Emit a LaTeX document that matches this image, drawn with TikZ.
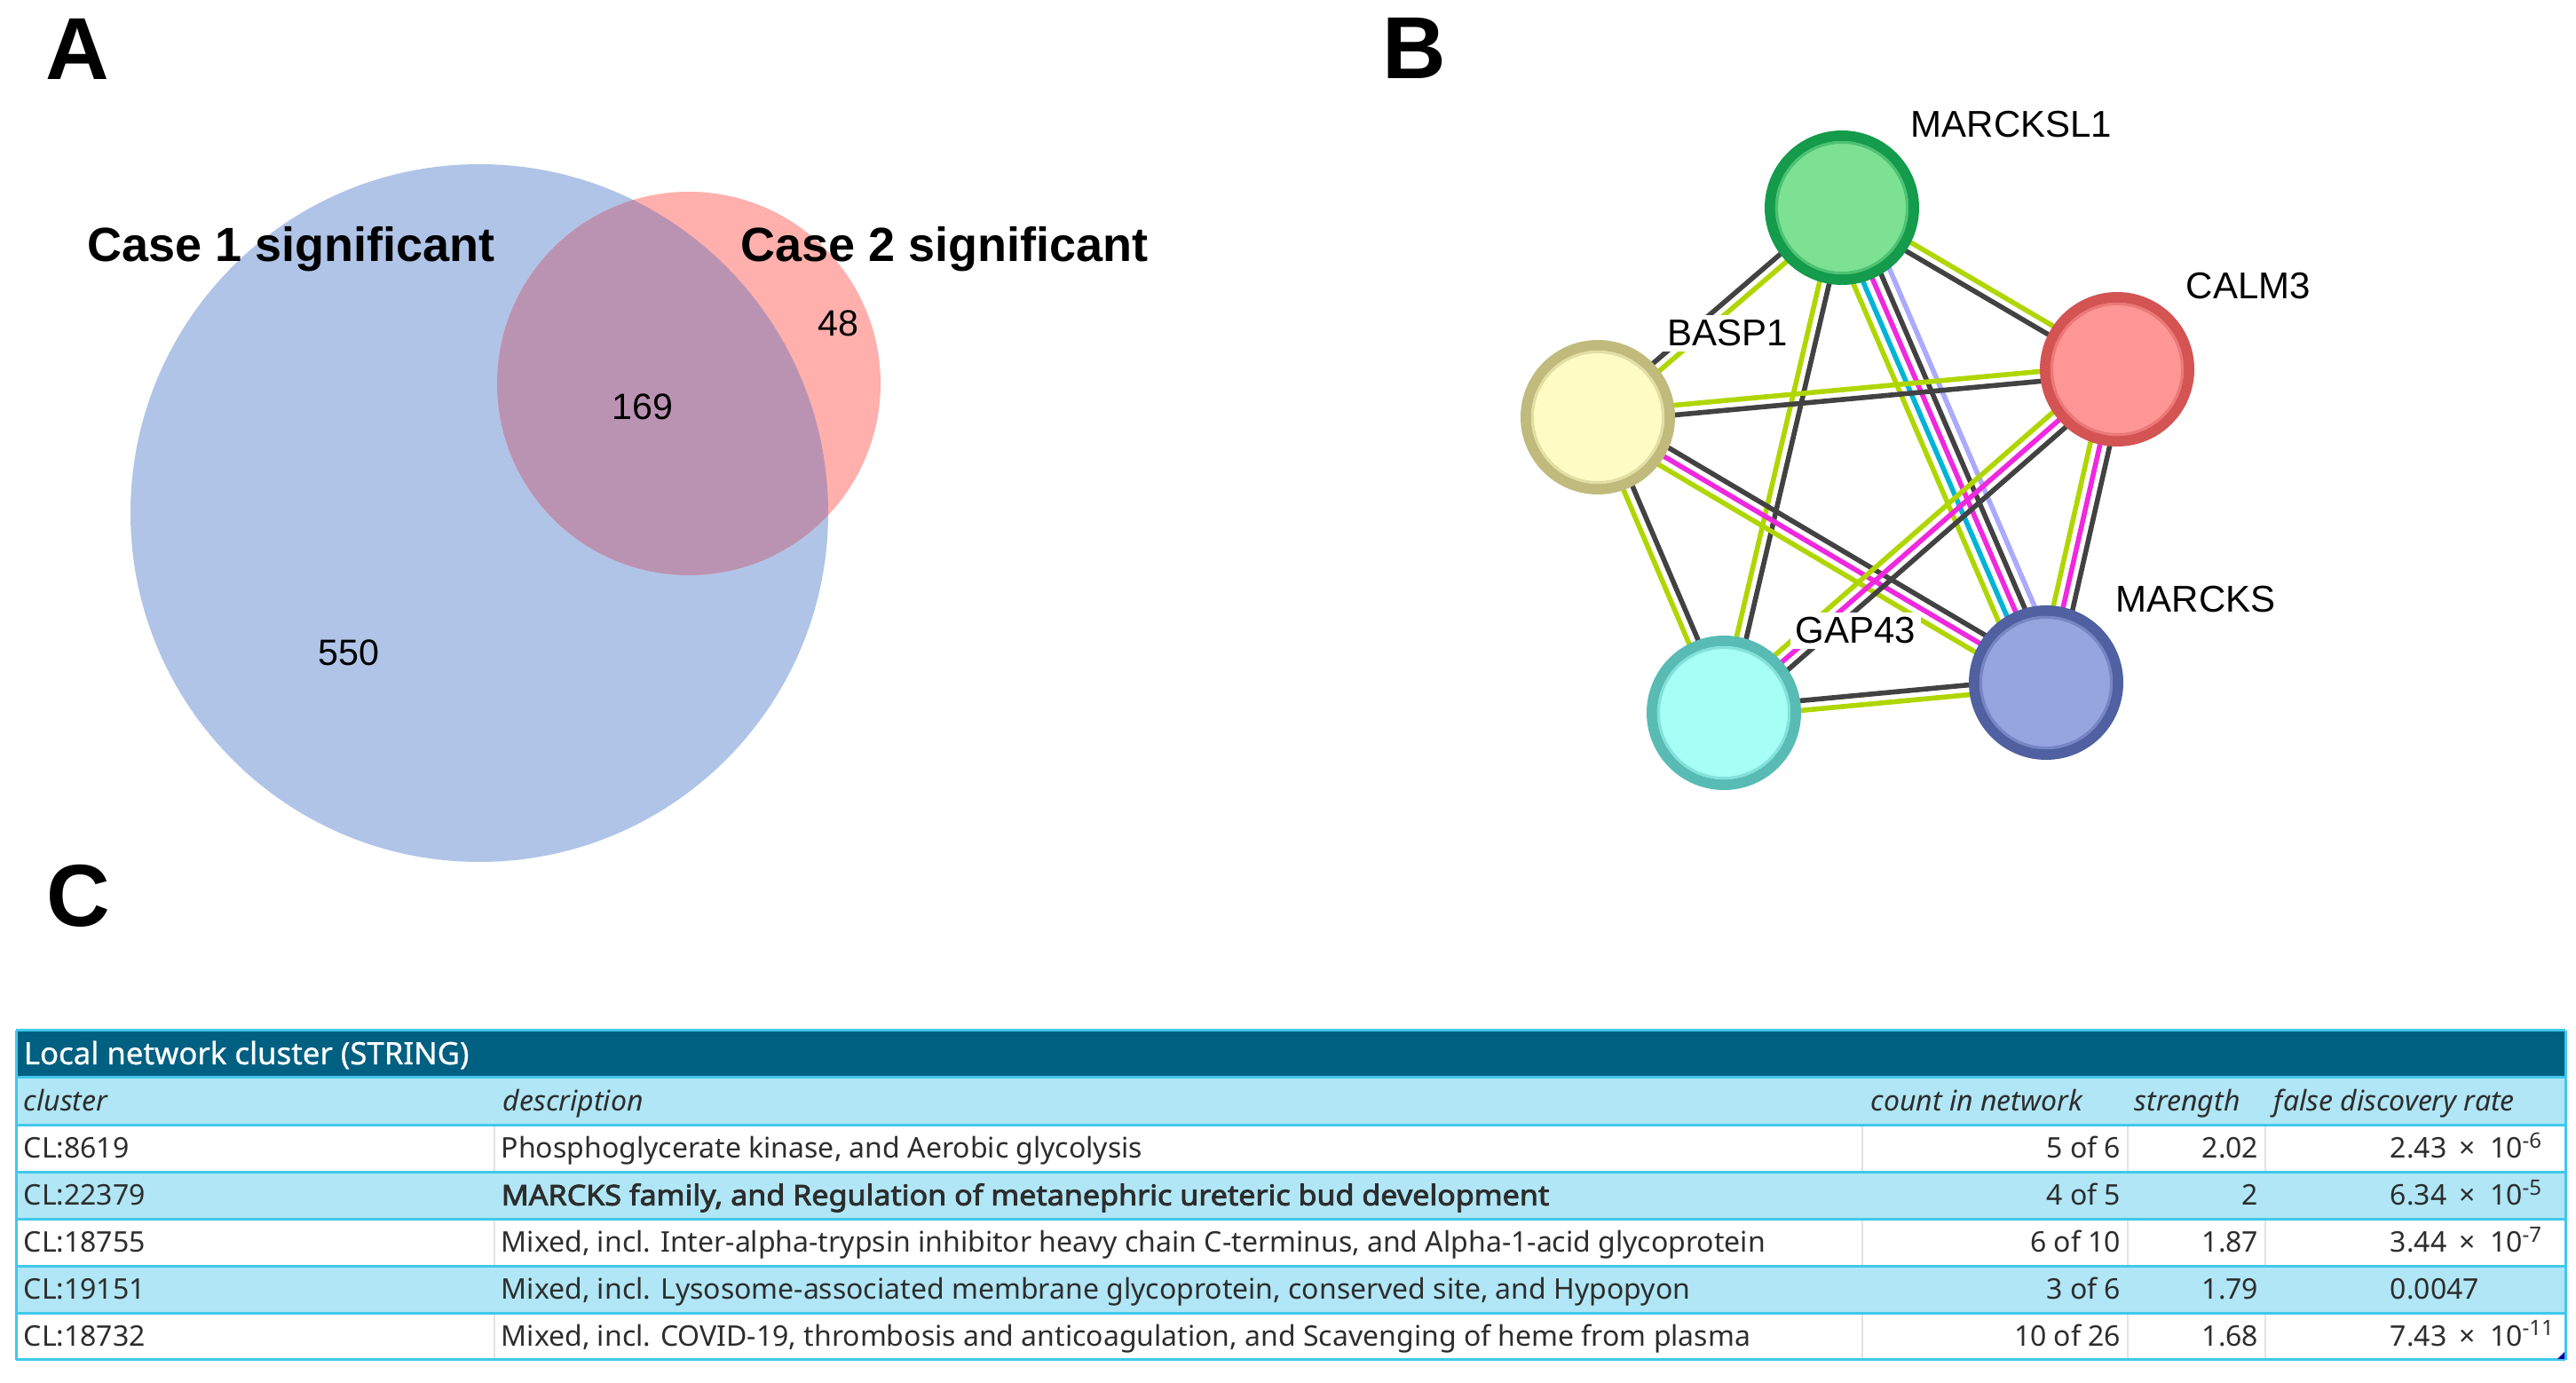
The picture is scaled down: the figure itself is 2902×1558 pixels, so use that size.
\documentclass[tikz,border=0pt]{standalone}
\usepackage{fontspec}
\setmainfont{Liberation Sans}
\newfontfamily\tabfont{Noto Sans}
\newfontfamily\tabbold[FakeBold=2.6, FakeStretch=1.065]{Noto Sans}
\newfontfamily\tabmedium[FakeBold=0.8]{Noto Sans}
\usetikzlibrary{calc}

% Venn colours
\definecolor{vennblue}{RGB}{176,196,232}
\definecolor{vennred}{RGB}{255,176,172}
\definecolor{vennmix}{RGB}{186,147,179}
% STRING evidence colours
\definecolor{tmgreen}{RGB}{176,214,0}
\definecolor{cogray}{RGB}{66,66,66}
\definecolor{exmagenta}{RGB}{240,40,222}
\definecolor{dbcyan}{RGB}{0,180,214}
\definecolor{hmlav}{RGB}{170,170,255}
% protein bubbles
\definecolor{lonefill}{RGB}{125,225,148}\definecolor{lonering}{RGB}{20,155,75}
\definecolor{calfill}{RGB}{255,150,150}\definecolor{calring}{RGB}{212,84,84}
\definecolor{basfill}{RGB}{255,252,195}\definecolor{basring}{RGB}{192,186,125}
\definecolor{gapfill}{RGB}{166,255,247}\definecolor{gapring}{RGB}{88,188,180}
\definecolor{marfill}{RGB}{150,164,224}\definecolor{marring}{RGB}{80,96,160}
% table
\definecolor{tabdark}{RGB}{0,96,130}
\definecolor{tablight}{RGB}{176,230,245}
\definecolor{tabline}{RGB}{64,200,236}
\definecolor{tabsep}{RGB}{226,226,226}
\definecolor{tabtext}{RGB}{45,45,45}

\pgfdeclarelayer{edges}
\pgfsetlayers{edges,main}

\tikzset{
  panel/.style={font=\fontsize{24.8}{25}\selectfont\bfseries, anchor=base west, inner sep=0pt},
  setlabel/.style={font=\fontsize{13.5}{14}\selectfont\bfseries, anchor=base, inner sep=0pt},
  setcount/.style={font=\fontsize{10.3}{11}\selectfont, anchor=base, inner sep=0pt},
  protein/.style={circle, minimum size=40.5pt, inner sep=0pt, line width=3pt},
  genelabel/.style={font=\fontsize{10.5}{11}\selectfont, anchor=base west, fill=white, inner sep=1.5pt},
  edge/.style={line width=1.4pt},
  cell/.style={font=\tabfont\fontsize{8}{9}\selectfont, text=tabtext, inner sep=0pt},
  headcell/.style={cell, font=\tabfont\itshape\fontsize{8}{9}\selectfont, anchor=base west},
}

% one STRING edge = a bundle of parallel coloured lines (offset/colour list)
\newcommand{\stredge}[3]{%
  \foreach \o/\c in {#3}
    \draw[edge, \c] ($(#1.center)!\o*2.75pt!90:(#2.center)$) -- ($(#2.center)!\o*2.75pt!-90:(#1.center)$);
}
% fdr written as a x 10^b
\newcommand{\sci}[2]{#1\hspace{0.45em}×\hspace{0.5em}10\textsuperscript{#2}}

\begin{document}
\begin{tikzpicture}[x=0.25pt, y=-0.25pt]
\useasboundingbox (0,0) rectangle (2902,1558);

% STEP 1: Panel letters.
\node[panel] (pA) at (51,90) {A};
\node[panel] (pB) at (1557,89) {B};
\node[panel] (pC) at (52,1044) {C};

% STEP 2: Venn diagram (panel A).
\coordinate (one) at (540,578);
\coordinate (two) at (776,432);
\fill[vennblue] (one) circle[radius=98.25pt];
\fill[vennred] (two) circle[radius=54pt];
% the overlap gets its own mixed colour
\begin{scope}
  \clip (one) circle[radius=98.25pt];
  \fill[vennmix] (two) circle[radius=54pt];
\end{scope}
\node[setlabel] (lone) at (328,295) {Case 1 significant};
\node[setlabel] (ltwo) at (1064,295) {Case 2 significant};
\node[setcount] (nonly) at (393,750) {550};
\node[setcount] (nboth) at (724,473) {169};
\node[setcount] (ntwo) at (944,379) {48};

% STEP 3: STRING network (panel B).
\foreach \nm/\pos/\fc/\rc in {l1/{2075,234}/lonefill/lonering, c3/{2385,416}/calfill/calring,
    ba/{1800,470}/basfill/basring, ga/{1942,803}/gapfill/gapring, ma/{2305,769}/marfill/marring}
{
  \node[protein, fill=\fc, draw=\rc] (\nm) at (\pos) {};
  \draw[\fc!55!\rc, line width=0.8pt] (\nm.center) circle[radius=18.4pt];
}

% the edges go below the bubbles
\begin{pgfonlayer}{edges}
\stredge{ba}{l1}{-0.5/tmgreen, 0.5/cogray}
\stredge{l1}{c3}{0.5/tmgreen, -0.5/cogray}
\stredge{l1}{ga}{-0.5/tmgreen, 0.5/cogray}
\stredge{l1}{ma}{-2/tmgreen, -1/dbcyan, 0/exmagenta, 1/cogray, 2/hmlav}
\stredge{ba}{c3}{0.5/tmgreen, -0.5/cogray}
\stredge{ba}{ga}{-0.5/tmgreen, 0.5/cogray}
\stredge{ba}{ma}{-1/tmgreen, 0/exmagenta, 1/cogray}
\stredge{c3}{ga}{-1/tmgreen, 0/exmagenta, 1/cogray}
\stredge{c3}{ma}{-1/tmgreen, 0/exmagenta, 1/cogray}
\stredge{ga}{ma}{-0.5/tmgreen, 0.5/cogray}
\end{pgfonlayer}

\node[genelabel] (tl1) at (2146,155) {MARCKSL1};
\node[genelabel] (tc3) at (2456,337) {CALM3};
\node[genelabel] (tba) at (1872,390) {BASP1};
\node[genelabel] (tma) at (2377,690) {MARCKS};
\node[genelabel] (tga) at (2016,725) {GAP43};

% STEP 4: Cluster table (panel C).
\fill[tabdark] (18,1161) rectangle (2890,1214);
\fill[tablight] (18,1214) rectangle (2890,1268);
\foreach \r in {2,4}
  \fill[tablight] (18,{1268+52.8*(\r-1)}) rectangle (2890,{1268+52.8*\r});
% light grey column rules only show in the white rows
\foreach \r in {1,3,5}
  \foreach \cx in {557,2098,2397,2552}
    \draw[tabsep, line width=0.5pt] (\cx,{1268+52.8*(\r-1)}) -- (\cx,{1268+52.8*\r});
\foreach \ly in {1161,1214,1268,1320.8,1373.6,1426.4,1479.2,1532}
  \draw[tabline, line width=0.75pt] (18,\ly) -- (2890,\ly);
\draw[tabline, line width=0.75pt] (18,1161) -- (18,1532);
\draw[tabline, line width=0.75pt] (2890,1161) -- (2890,1532);
\fill[blue!65!black] (2881,1531) -- (2889,1531) -- (2889,1523) -- cycle;

\node[cell, text=white, anchor=base west, font=\tabmedium\fontsize{8.7}{9}\selectfont] (thead) at (26,1199) {Local network cluster (STRING)};
\node[headcell] (hcl) at (26,1252) {cluster};
\node[headcell] (hde) at (566,1252) {description};
\node[headcell] (hco) at (2107,1252) {count in network};
\node[headcell] (hst) at (2404,1252) {strength};
\node[headcell] (hfd) at (2561,1252) {false discovery rate};

\foreach \clid/\desc/\cnt/\str/\fdr [count=\r] in {
  CL:8619/{Phosphoglycerate kinase, and Aerobic glycolysis}/5 of 6/2.02/{\sci{2.43}{-6}},
  CL:22379/{\tabbold MARCKS family, and Regulation of metanephric ureteric bud development}/4 of 5/2/{\sci{6.34}{-5}},
  CL:18755/{Mixed, incl. Inter-alpha-trypsin inhibitor heavy chain C-terminus, and Alpha-1-acid glycoprotein}/6 of 10/1.87/{\sci{3.44}{-7}},
  CL:19151/{Mixed, incl. Lysosome-associated membrane glycoprotein, conserved site, and Hypopyon}/3 of 6/1.79/{0.0047},
  CL:18732/{Mixed, incl. COVID-19, thrombosis and anticoagulation, and Scavenging of heme from plasma}/10 of 26/1.68/{\sci{7.43}{-11}}}
{
  \pgfmathsetmacro\yb{1305+52.8*(\r-1)}
  \node[cell, anchor=base west] (cid\r) at (26,\yb) {\clid};
  \node[cell, anchor=base west] (cde\r) at (564,\yb) {\desc};
  \node[cell, anchor=base east] (cco\r) at (2390,\yb) {\cnt};
  \node[cell, anchor=base east] (cst\r) at (2545,\yb) {\str};
  \node[cell, anchor=base west] (cfd\r) at (2692,\yb) {\fdr};
}

\end{tikzpicture}
\end{document}
